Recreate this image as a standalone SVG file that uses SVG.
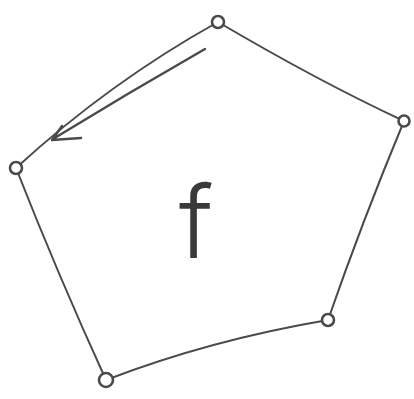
<svg xmlns="http://www.w3.org/2000/svg" width="414" height="399" viewBox="0 0 414 399">
<style>
.e{fill:none;stroke:#4a4a4a;stroke-width:2;stroke-linecap:round;stroke-linejoin:round}
.v{fill:#fff;stroke:#4a4a4a;stroke-width:2.6}
.t{font-family:Inter,"Liberation Sans",Arial,sans-serif;font-weight:300;font-size:100px;fill:#3a3a3a}
</style>
<rect width="414" height="399" fill="#fff"/>
<g id="edges">
<path class="e" d="M218,22 Q110,82 16,168"/>
<path class="e" d="M218,22 Q320,82 404,121"/>
<path class="e" d="M404,121 Q362,222 328,320"/>
<path class="e" d="M328,320 Q210,340 106,380"/>
<path class="e" d="M106,380 Q58,275 16,168"/>
<path class="e" d="M205,49 Q128,93 53,139 M62,126 L52,140 L81,138" style="stroke-width:2.4"/>
</g>
<g id="v1"><circle class="v" cx="218" cy="22" r="6"/></g>
<g id="v2"><circle class="v" cx="404" cy="121" r="5.5"/></g>
<g id="v3"><circle class="v" cx="328" cy="320" r="6"/></g>
<g id="v4"><circle class="v" cx="106" cy="380" r="7"/></g>
<g id="v5"><circle class="v" cx="16" cy="168" r="6"/></g>
<g id="label"><text class="t" x="196" y="258" text-anchor="middle">f</text></g>
</svg>
